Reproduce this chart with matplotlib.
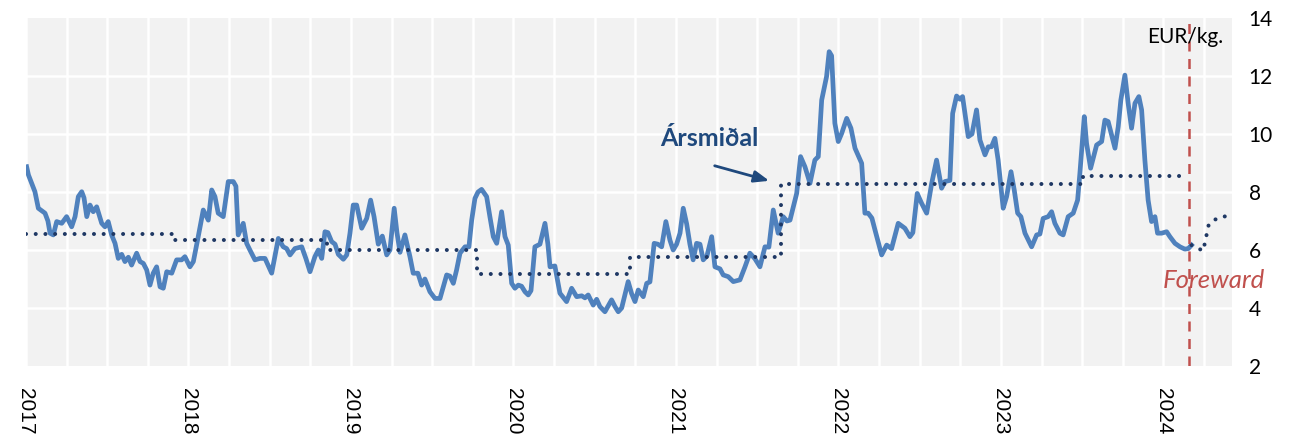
import numpy as np
import matplotlib
matplotlib.use("Agg")
import matplotlib.pyplot as plt

# price series, x in fractional years, EUR/kg
price_t = [
    2017.004, 2017.015, 2017.035, 2017.055, 2017.076, 2017.117, 2017.135, 2017.148, 2017.168, 2017.189,
    2017.220, 2017.250, 2017.281, 2017.302, 2017.322, 2017.343, 2017.357, 2017.374, 2017.394, 2017.414,
    2017.435, 2017.466, 2017.486, 2017.506, 2017.527, 2017.548, 2017.568, 2017.589, 2017.609, 2017.630,
    2017.650, 2017.681, 2017.702, 2017.722, 2017.743, 2017.763, 2017.783, 2017.804, 2017.825, 2017.845,
    2017.866, 2017.897, 2017.927, 2017.958, 2017.978, 2018.009, 2018.030, 2018.060, 2018.091, 2018.122,
    2018.143, 2018.163, 2018.183, 2018.214, 2018.245, 2018.276, 2018.292, 2018.306, 2018.337, 2018.358,
    2018.378, 2018.409, 2018.440, 2018.471, 2018.512, 2018.553, 2018.583, 2018.604, 2018.625, 2018.655,
    2018.697, 2018.723, 2018.748, 2018.778, 2018.799, 2018.820, 2018.840, 2018.858, 2018.881, 2018.902,
    2018.922, 2018.953, 2018.974, 2018.994, 2019.014, 2019.035, 2019.066, 2019.097, 2019.121, 2019.142,
    2019.168, 2019.193, 2019.220, 2019.240, 2019.266, 2019.283, 2019.302, 2019.332, 2019.363, 2019.383,
    2019.412, 2019.435, 2019.455, 2019.486, 2019.517, 2019.548, 2019.568, 2019.589, 2019.609, 2019.630,
    2019.650, 2019.671, 2019.702, 2019.726, 2019.743, 2019.763, 2019.782, 2019.804, 2019.835, 2019.855,
    2019.876, 2019.897, 2019.927, 2019.948, 2019.968, 2019.989, 2020.009, 2020.030, 2020.050, 2020.071,
    2020.091, 2020.108, 2020.132, 2020.163, 2020.194, 2020.212, 2020.225, 2020.255, 2020.286, 2020.327,
    2020.358, 2020.389, 2020.420, 2020.440, 2020.460, 2020.491, 2020.512, 2020.532, 2020.563, 2020.604,
    2020.625, 2020.645, 2020.666, 2020.686, 2020.706, 2020.727, 2020.748, 2020.768, 2020.799, 2020.820,
    2020.840, 2020.866, 2020.889, 2020.912, 2020.938, 2020.963, 2020.983, 2021.004, 2021.025, 2021.045,
    2021.066, 2021.086, 2021.106, 2021.127, 2021.148, 2021.168, 2021.191, 2021.220, 2021.240, 2021.271,
    2021.291, 2021.322, 2021.353, 2021.394, 2021.425, 2021.455, 2021.486, 2021.517, 2021.548, 2021.572,
    2021.599, 2021.629, 2021.660, 2021.683, 2021.702, 2021.743, 2021.767, 2021.794, 2021.825, 2021.855,
    2021.876, 2021.897, 2021.927, 2021.943, 2021.958, 2021.978, 2021.999, 2022.020, 2022.051, 2022.077,
    2022.102, 2022.143, 2022.163, 2022.183, 2022.206, 2022.225, 2022.266, 2022.297, 2022.327, 2022.368,
    2022.409, 2022.440, 2022.458, 2022.485, 2022.512, 2022.543, 2022.574, 2022.604, 2022.635, 2022.655,
    2022.686, 2022.703, 2022.727, 2022.748, 2022.764, 2022.799, 2022.822, 2022.850, 2022.871, 2022.902,
    2022.922, 2022.942, 2022.963, 2022.983, 2023.014, 2023.035, 2023.062, 2023.082, 2023.103, 2023.123,
    2023.148, 2023.189, 2023.220, 2023.240, 2023.260, 2023.291, 2023.312, 2023.332, 2023.363, 2023.383,
    2023.414, 2023.445, 2023.472, 2023.486, 2023.513, 2023.527, 2023.552, 2023.568, 2023.589, 2023.620,
    2023.640, 2023.660, 2023.702, 2023.722, 2023.738, 2023.763, 2023.783, 2023.804, 2023.825, 2023.849,
    2023.866, 2023.886, 2023.906, 2023.927, 2023.948, 2023.964, 2023.989, 2024.020, 2024.040, 2024.071,
    2024.102, 2024.132, 2024.153, 2024.173,
]
price = [
    8.87, 8.59, 8.30, 8.01, 7.44, 7.27, 7.00, 6.58, 6.52, 6.98,
    6.92, 7.15, 6.80, 7.15, 7.84, 8.01, 7.80, 7.15, 7.55, 7.32,
    7.49, 6.92, 6.80, 6.98, 6.52, 6.23, 5.71, 5.85, 5.60, 5.75,
    5.48, 5.89, 5.60, 5.54, 5.31, 4.79, 5.20, 5.42, 4.73, 4.68,
    5.25, 5.20, 5.66, 5.66, 5.77, 5.42, 5.60, 6.46, 7.38, 7.03,
    8.07, 7.84, 7.27, 7.15, 8.36, 8.36, 8.20, 6.52, 6.92, 6.23,
    6.00, 5.66, 5.71, 5.71, 5.20, 6.40, 6.11, 6.05, 5.83, 6.05,
    6.11, 5.70, 5.25, 5.77, 6.00, 5.71, 6.63, 6.60, 6.29, 6.20,
    5.85, 5.68, 5.83, 6.58, 7.55, 7.55, 6.75, 7.09, 7.72, 7.15,
    6.20, 6.48, 5.83, 6.00, 7.44, 6.60, 5.92, 6.52, 5.77, 5.20,
    5.20, 4.79, 5.00, 4.56, 4.33, 4.33, 4.73, 5.14, 5.10, 4.85,
    5.31, 5.89, 6.11, 6.11, 7.03, 7.78, 8.00, 8.09, 7.84, 7.15,
    6.46, 6.23, 7.32, 6.46, 6.17, 4.85, 4.68, 4.79, 4.75, 4.56,
    4.45, 4.60, 6.11, 6.20, 6.92, 6.20, 5.42, 5.45, 4.51, 4.22,
    4.68, 4.39, 4.42, 4.35, 4.45, 4.10, 4.30, 4.05, 3.87, 4.28,
    4.05, 3.87, 4.00, 4.45, 4.91, 4.50, 4.22, 4.62, 4.39, 4.85,
    4.90, 6.23, 6.20, 6.11, 6.98, 6.34, 6.00, 6.20, 6.58, 7.44,
    6.90, 6.20, 5.66, 6.23, 6.20, 5.66, 5.80, 6.46, 5.42, 5.35,
    5.14, 5.08, 4.91, 4.97, 5.42, 5.89, 5.70, 5.42, 6.11, 6.10,
    7.38, 6.58, 7.15, 7.00, 7.03, 7.95, 9.22, 8.87, 8.30, 9.10,
    9.22, 11.17, 11.98, 12.84, 12.70, 10.37, 9.74, 10.02, 10.54, 10.20,
    9.51, 8.99, 7.27, 7.27, 7.10, 6.69, 5.83, 6.17, 6.05, 6.92,
    6.75, 6.46, 6.60, 7.95, 7.61, 7.27, 8.30, 9.10, 8.13, 8.36,
    8.40, 10.71, 11.31, 11.20, 11.29, 9.91, 10.00, 10.83, 9.79, 9.28,
    9.56, 9.56, 9.85, 9.10, 7.44, 7.84, 8.70, 8.07, 7.27, 7.15,
    6.58, 6.11, 6.52, 6.55, 7.09, 7.15, 7.32, 6.92, 6.58, 6.52,
    7.15, 7.27, 7.72, 8.64, 10.60, 9.68, 8.82, 9.16, 9.62, 9.74,
    10.48, 10.43, 9.51, 10.25, 11.17, 12.03, 11.06, 10.20, 11.06, 11.29,
    10.83, 9.10, 7.72, 6.98, 7.15, 6.58, 6.58, 6.63, 6.46, 6.23,
    6.11, 6.03, 6.05, 6.17,
]

# forward curve
fwd_t = [2024.173, 2024.245, 2024.278, 2024.306, 2024.358, 2024.405]
fwd = [6.17, 5.97, 6.85, 7.03, 7.12, 7.21]

# yearly average (step line)
avg_t = [2017.0, 2017.898, 2018.852, 2019.775, 2020.717, 2021.646, 2022.58, 2023.505, 2024.116]
avg = [6.54, 6.34, 5.99, 5.18, 5.75, 8.27, 8.27, 8.56, 8.56]

years = [2017, 2018, 2019, 2020, 2021, 2022, 2023, 2024]
forecast_start = 2024.157

fig = plt.figure(figsize=(12.93, 4.34), dpi=100)
ax = fig.add_axes([0.0201, 0.1567, 0.9327, 0.8018])
ax.set_facecolor("#f2f2f2")

# grid
for q in np.arange(2017, 2024.5, 0.25):
    ax.axvline(q, color="white", lw=1.8, zorder=1)
for v in range(4, 14, 2):
    ax.axhline(v, color="white", lw=1.8, zorder=1)

dots = (0, (0.01, 2.4))
ax.plot(price_t, price, color="#4f81bd", lw=3.4, solid_joinstyle="round", zorder=3)
ax.step(avg_t, avg, where="post", color="#1f3864", lw=2.9,
        linestyle=dots, dash_capstyle="round", zorder=4)
ax.plot(fwd_t, fwd, color="#1f3864", lw=2.9,
        linestyle=dots, dash_capstyle="round", zorder=4)

ax.axvline(forecast_start, color="#c0504d", lw=1.8, linestyle=(0, (4, 3)), zorder=5)

ax.set_xlim(2017.0, 2024.422)
ax.set_ylim(2, 14)
for s in ax.spines.values():
    s.set_visible(False)

ax.yaxis.tick_right()
ax.set_yticks(range(2, 15, 2))
ax.tick_params(axis="y", length=0, pad=12, labelsize=15)
for lab in ax.get_yticklabels():
    lab.set_fontfamily("Lato")

ax.set_xticks(years)
ax.set_xticklabels([str(y) for y in years], rotation=-90, fontsize=15,
                   family="Liberation Sans", va="top", ha="center")
ax.tick_params(axis="x", length=0, pad=16)

ax.text(2021.203, 9.85, "Ársmiðal", color="#1f497d", fontsize=18, fontweight="bold",
        family="Lato", ha="center", va="center", zorder=6)
ax.annotate("", xy=(2021.591, 8.36), xytext=(2021.222, 8.93),
            arrowprops=dict(arrowstyle="-|>,head_length=0.9,head_width=0.35",
                            color="#1f497d", lw=2), zorder=6)
ax.text(2024.311, 4.95, "Foreward", color="#c0504d", fontsize=18.5, style="italic",
        family="Lato", ha="center", va="center", clip_on=False, zorder=6)
ax.text(2024.132, 13.34, "EUR/kg.", color="black", fontsize=15,
        family="Lato", ha="center", va="center", zorder=6)

fig.savefig("out.png", dpi=100)
